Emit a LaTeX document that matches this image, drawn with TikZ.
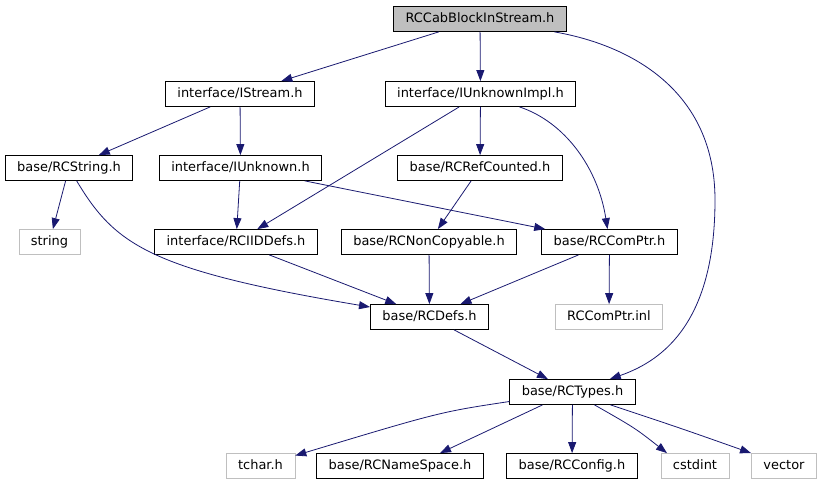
\documentclass[tikz,border=0pt]{standalone}
\usepackage{fontspec}
\setmainfont{DejaVu Sans}
\usetikzlibrary{arrows.meta}
\definecolor{incl}{RGB}{25,25,112}
\definecolor{sysgray}{RGB}{191,191,191}

\begin{document}
\begin{tikzpicture}[x=1bp,y=-1bp,
  hbox/.style={draw=black,line width=0.8bp,inner xsep=12bp,inner ysep=0pt,
    minimum height=25bp,text height=9.5bp,text depth=2.5bp,
    font=\fontsize{13}{15}\selectfont},
  extbox/.style={hbox,draw=sysgray},
  inc/.style={incl,line width=0.8bp,-{Triangle[length=11bp,width=8bp]}}]
  \useasboundingbox (0,0) rectangle (821,485);
  \node[hbox,fill=sysgray] (top) at (480,19) {RCCabBlockInStream.h};
  \node[hbox] (istream) at (240,94) {interface/IStream.h};
  \node[hbox] (unkimpl) at (480.5,94) {interface/IUnknownImpl.h};
  \node[hbox] (rcstring) at (69,168) {base/RCString.h};
  \node[hbox] (iunknown) at (240.5,168) {interface/IUnknown.h};
  \node[hbox] (refcnt) at (480,168) {base/RCRefCounted.h};
  \node[extbox] (string) at (49.5,242) {string};
  \node[hbox] (iiddefs) at (236,242) {interface/RCIIDDefs.h};
  \node[hbox] (noncopy) at (429,242) {base/RCNonCopyable.h};
  \node[hbox] (comptr) at (609.5,242) {base/RCComPtr.h};
  \node[hbox] (rcdefs) at (429.5,317) {base/RCDefs.h};
  \node[extbox] (inl) at (609,317) {RCComPtr.inl};
  \node[hbox] (rctypes) at (572.5,392) {base/RCTypes.h};
  \node[extbox] (tchar) at (260.5,466) {tchar.h};
  \node[hbox] (namesp) at (400,466) {base/RCNameSpace.h};
  \node[hbox] (config) at (572,466) {base/RCConfig.h};
  \node[extbox] (cstdint) at (695,466) {cstdint};
  \node[extbox] (vector) at (784,466) {vector};
  \draw[inc] (top) -- (istream);
  \draw[inc] (top) -- (unkimpl);
  \draw[inc] (top) .. controls (630,45) and (715,90) .. (715,200)
    .. controls (715,320) and (665,360) .. (rctypes);
  \draw[inc] (istream) -- (rcstring);
  \draw[inc] (istream) -- (iunknown);
  \draw[inc] (unkimpl) -- (iiddefs);
  \draw[inc] (unkimpl) -- (refcnt);
  \draw[inc] (unkimpl) .. controls (565,122) and (598,168) .. (comptr);
  \draw[inc] (rcstring) -- (string);
  \draw[inc] (rcstring) .. controls (115,245) and (150,270) .. (rcdefs);
  \draw[inc] (iunknown) -- (iiddefs);
  \draw[inc] (iunknown) -- (comptr);
  \draw[inc] (refcnt) -- (noncopy);
  \draw[inc] (iiddefs) -- (rcdefs);
  \draw[inc] (noncopy) -- (rcdefs);
  \draw[inc] (comptr) -- (rcdefs);
  \draw[inc] (comptr) -- (inl);
  \draw[inc] (rcdefs) -- (rctypes);
  \draw[inc] (rctypes) .. controls (440,412) .. (tchar);
  \draw[inc] ([xshift=-30bp]rctypes.south) -- ([xshift=40bp]namesp.north);
  \draw[inc] (rctypes) -- (config);
  \draw[inc] ([xshift=22bp]rctypes.south) .. controls (635,428) .. ([xshift=-28bp]cstdint.north);
  \draw[inc] ([xshift=38bp]rctypes.south) .. controls (680,428) .. (vector.north west);
\end{tikzpicture}
\end{document}
